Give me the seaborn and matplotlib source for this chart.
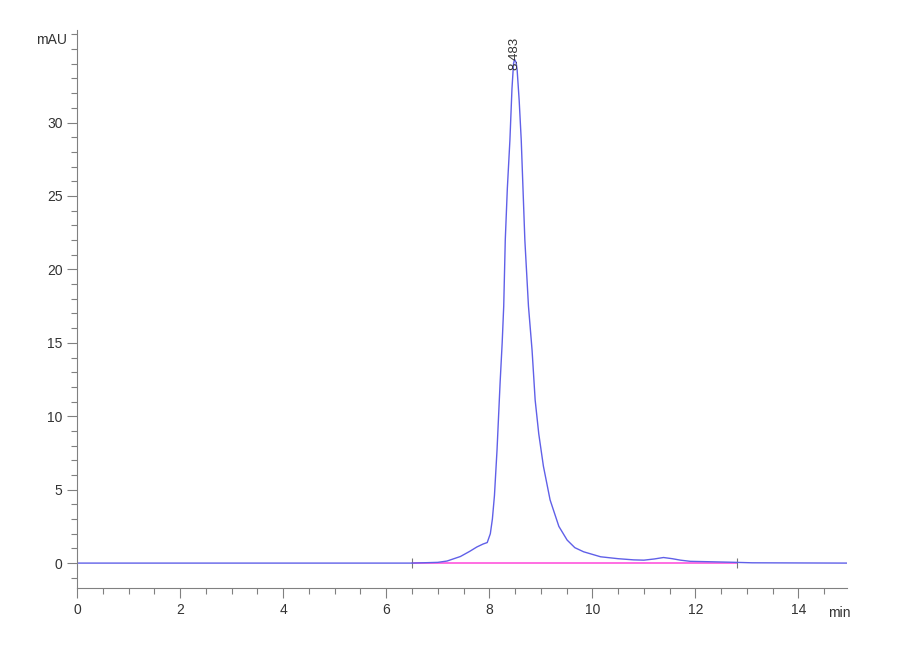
import numpy as np
import matplotlib
matplotlib.use("Agg")
import matplotlib.pyplot as plt
from matplotlib.ticker import MultipleLocator
import seaborn as sns
sns.set_theme(style="white")
plt.rcParams['font.family'] = ['Liberation Sans Narrow', 'Liberation Sans', 'DejaVu Sans']

# chromatogram trace (min, mAU)
times = [0.0, 6.5, 7.0, 7.18, 7.44, 7.62, 7.76, 7.88, 7.96, 8.02, 8.06, 8.10,
         8.15, 8.21, 8.25, 8.28, 8.31, 8.35, 8.40, 8.44, 8.47, 8.49, 8.52, 8.54,
         8.58, 8.62, 8.69, 8.76, 8.83, 8.89, 8.96, 9.05, 9.18, 9.35, 9.51, 9.66,
         9.83, 10.16, 10.5, 10.8, 11.0, 11.2, 11.38, 11.55, 11.71, 11.9, 12.3,
         12.68, 13.1, 14.95]
signal = [0.0, 0.0, 0.05, 0.14, 0.45, 0.8, 1.1, 1.3, 1.4, 2.0, 3.0, 4.6,
          7.7, 12.3, 15.0, 17.5, 22.0, 25.5, 28.8, 32.3, 34.0, 34.3, 34.1, 33.6,
          31.5, 28.8, 22.0, 17.5, 14.5, 11.1, 8.8, 6.6, 4.3, 2.5, 1.57, 1.05,
          0.77, 0.43, 0.3, 0.22, 0.2, 0.28, 0.38, 0.3, 0.2, 0.12, 0.09,
          0.06, 0.02, 0.0]

# integration baseline
base_t = [6.5, 12.8]
base_y = [0.0, 0.0]

peak_rt = 8.483
peak_h = 34.3

x_ticks = [0, 2, 4, 6, 8, 10, 12, 14]
y_ticks = [0, 5, 10, 15, 20, 25, 30]

fig = plt.figure(figsize=(9, 6.6), dpi=100)
ax = fig.add_axes([0.0856, 0.109, 0.856, 0.8455])

sns.lineplot(x=base_t, y=base_y, color='#ff55dd', linewidth=1.2, ax=ax)
ax.plot(base_t, base_y, linestyle='none', marker='|', markersize=7,
        color='#777777', markeredgewidth=0.8)
sns.lineplot(x=times, y=signal, color='#6060e8', linewidth=1.0,
             estimator=None, ax=ax)

ax.set_xlim(0, 14.95)
ax.set_ylim(-1.7, 36.3)
ax.set_xticks(x_ticks)
ax.set_yticks(y_ticks)
ax.xaxis.set_minor_locator(MultipleLocator(0.5))
ax.yaxis.set_minor_locator(MultipleLocator(1))
ax.tick_params(which='major', direction='out', length=7, width=0.8,
               color='#808080', labelsize=10, labelcolor='#333333',
               bottom=True, left=True)
ax.tick_params(which='minor', direction='out', length=4, width=0.8,
               color='#808080', bottom=True, left=True)

for side in ['top', 'right']:
    ax.spines[side].set_visible(False)
for side in ['left', 'bottom']:
    ax.spines[side].set_color('#808080')
    ax.spines[side].set_linewidth(0.8)

ax.text(-0.2, 35.6, 'mAU', ha='right', va='center', fontsize=10, color='#333333')
ax.text(14.8, -2.9, 'min', ha='center', va='top', fontsize=10, color='#333333')
ax.text(peak_rt, peak_h - 0.7, f'{peak_rt:.3f}', rotation=90, ha='center',
        va='bottom', fontsize=9.5, color='#333333', clip_on=False)

plt.savefig('out.png', dpi=100)
